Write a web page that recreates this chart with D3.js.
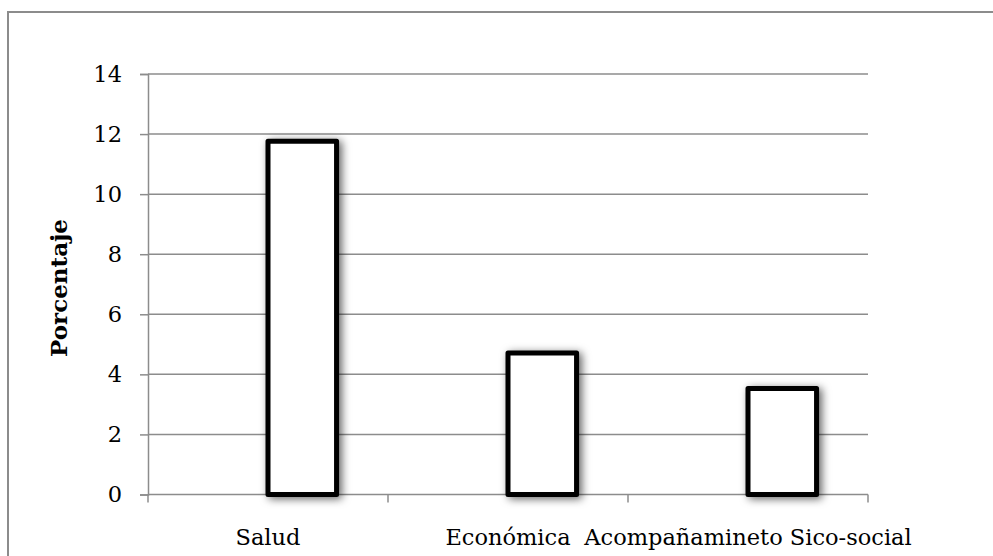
<!DOCTYPE html>
<html>
<head>
<meta charset="utf-8">
<script src="https://cdn.jsdelivr.net/npm/d3@7"></script>
<style>
  html, body { margin: 0; padding: 0; background: #fff; }
  svg { display: block; }
</style>
</head>
<body>
<svg id="chart" width="993" height="556"></svg>
<script>
// Chart data
const categories = ["Salud", "Económica", "Acompañamineto Sico-social"];
const values = [11.76, 4.71, 3.53];
const yTicks = [0, 2, 4, 6, 8, 10, 12, 14];
const yTitle = "Porcentaje";

const svg = d3.select("#chart");
const W = 993, H = 556;
const margin = { left: 148, right: 125, top: 74, bottom: 61.5 };
const plotW = W - margin.left - margin.right;   // 720
const plotH = H - margin.top - margin.bottom;   // 420.5

const font = "'DejaVu Serif', serif";

// Outer frame
svg.append("rect")
  .attr("x", 8).attr("y", 12)
  .attr("width", W + 20).attr("height", H + 20)
  .attr("fill", "none").attr("stroke", "#8c8c8c").attr("stroke-width", 2);

// Drop shadow for bars
const defs = svg.append("defs");
const f = defs.append("filter").attr("id", "shadow")
  .attr("x", "-30%").attr("y", "-30%").attr("width", "160%").attr("height", "160%");
f.append("feDropShadow")
  .attr("dx", 3).attr("dy", 2).attr("stdDeviation", 4)
  .attr("flood-color", "#000").attr("flood-opacity", 0.6);

const x = d3.scaleBand().domain(categories).range([0, plotW]).paddingInner(0).paddingOuter(0);
const y = d3.scaleLinear().domain([0, 14]).range([plotH, 0]);

const g = svg.append("g").attr("transform", `translate(${margin.left},${margin.top})`);

// Horizontal gridlines
g.append("g").selectAll("line").data(yTicks.filter(d => d > 0)).join("line")
  .attr("x1", 0).attr("x2", plotW)
  .attr("y1", d => y(d)).attr("y2", d => y(d))
  .attr("stroke", "#8c8c8c").attr("stroke-width", 1.5);

// Y axis
const yAxis = g.append("g").call(
  d3.axisLeft(y).tickValues(yTicks).tickSize(8).tickPadding(18).tickFormat(d3.format("d"))
);
yAxis.select(".domain").attr("stroke", "#8c8c8c").attr("stroke-width", 1.5);
yAxis.selectAll(".tick line").attr("stroke", "#8c8c8c").attr("stroke-width", 1.5);
yAxis.selectAll(".tick text")
  .attr("font-family", font).attr("font-size", 22.5).attr("fill", "#000");

// X axis (ticks between categories)
const xg = g.append("g").attr("transform", `translate(0,${plotH})`);
xg.append("line").attr("x1", 0).attr("x2", plotW).attr("y1", 0).attr("y2", 0)
  .attr("stroke", "#8c8c8c").attr("stroke-width", 1.5);
const edges = [0].concat(categories.map(c => x(c) + x.bandwidth()));
xg.selectAll("line.tk").data(edges).join("line").attr("class", "tk")
  .attr("x1", d => d).attr("x2", d => d).attr("y1", 0).attr("y2", 8)
  .attr("stroke", "#8c8c8c").attr("stroke-width", 1.5);
xg.selectAll("text").data(categories).join("text")
  .attr("x", d => x(d) + x.bandwidth() / 2)
  .attr("y", 50)
  .attr("text-anchor", "middle")
  .attr("font-family", font).attr("font-size", 22.5).attr("fill", "#000")
  .text(d => d);

// Bars (first of two series slots, starting at category centre)
const barW = x.bandwidth() / 3.5;
g.append("g").selectAll("rect").data(values).join("rect")
  .attr("x", (d, i) => x(categories[i]) + x.bandwidth() / 2)
  .attr("y", d => y(d))
  .attr("width", barW)
  .attr("height", d => y(0) - y(d))
  .attr("fill", "#fff")
  .attr("stroke", "#000")
  .attr("stroke-width", 5)
  .attr("stroke-linejoin", "round")
  .attr("filter", "url(#shadow)");

// Y axis title
svg.append("text")
  .attr("transform", `translate(67,288) rotate(-90)`)
  .attr("text-anchor", "middle")
  .attr("font-family", font).attr("font-size", 23).attr("font-weight", "bold")
  .attr("fill", "#000")
  .text(yTitle);
</script>
</body>
</html>
